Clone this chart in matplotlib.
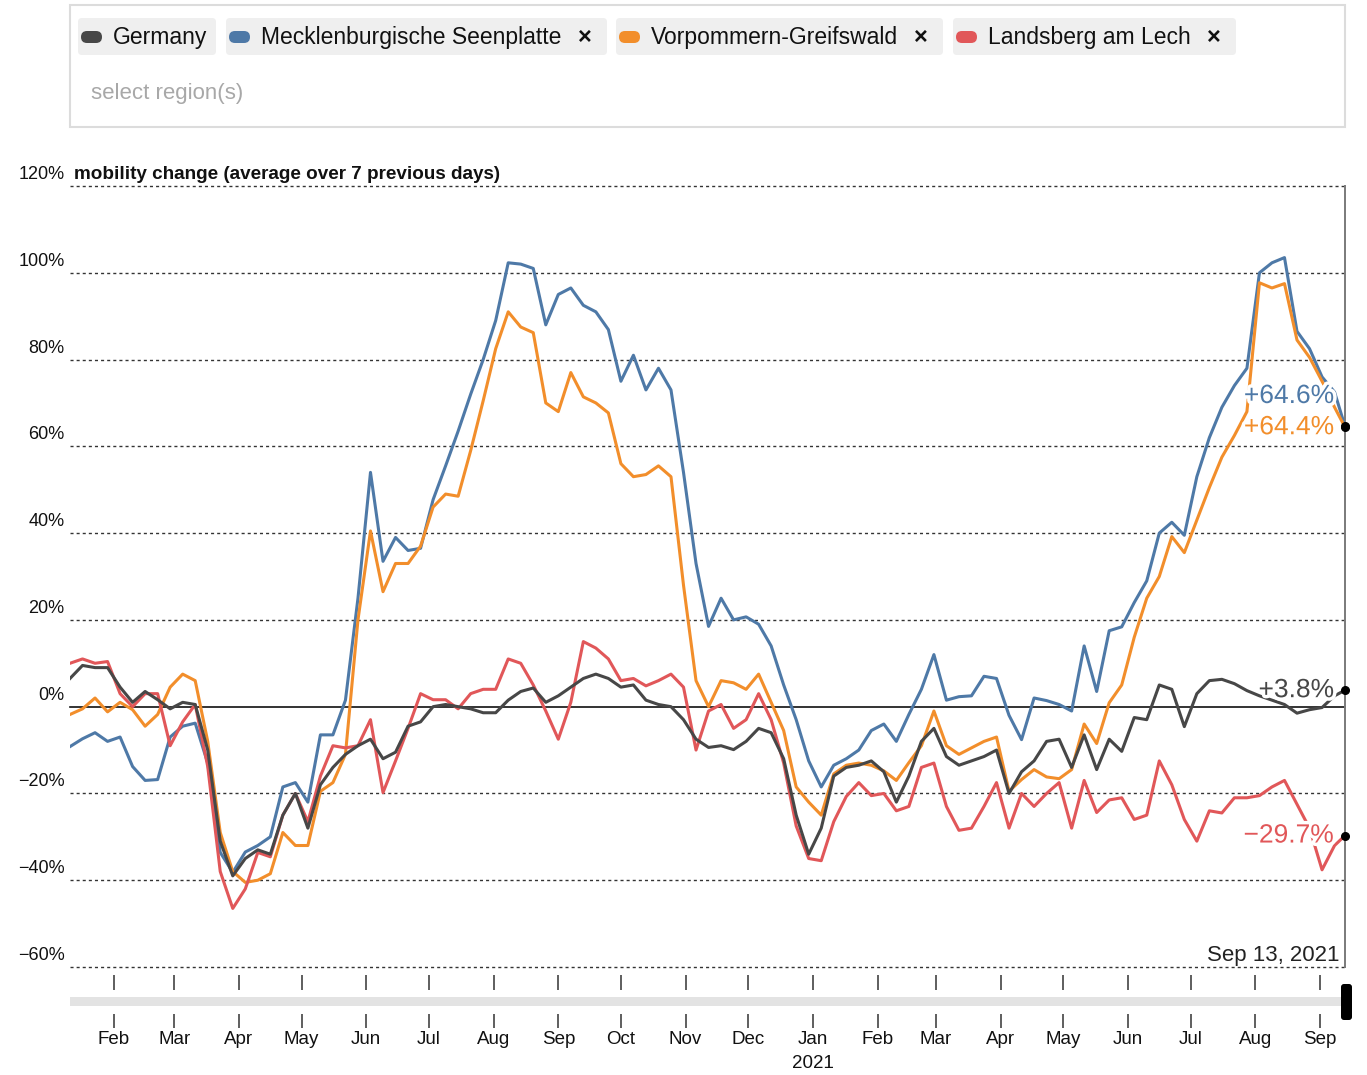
import matplotlib
matplotlib.use("Agg")
import matplotlib.pyplot as plt
import matplotlib.dates as mdates
import matplotlib.patheffects as pe
from matplotlib.patches import FancyBboxPatch, Rectangle
import pandas as pd

plt.rcParams['font.family'] = ['Liberation Sans', 'DejaVu Sans']

W, H = 1367, 1075

# ---------------- data ----------------
dates = list(pd.date_range("2020-01-11", periods=102, freq="6D")) + [pd.Timestamp("2021-09-13")]

germany = [
    6.5, 9.5, 9, 9, 4.5, 1, 3.5, 1.6, -0.5, 1,
    0.5, -10, -31, -39, -35, -33, -34, -25, -20, -28,
    -18, -14, -11, -9, -7.5, -12, -10.5, -4.5, -3.5, 0,
    0.5, 0, -0.5, -1.4, -1.4, 1.5, 3.5, 4.3, 1, 2.5,
    4.5, 6.5, 7.5, 6.5, 4.5, 5, 1.5, 0.5, 0, -3,
    -7.5, -9.4, -9, -9.9, -8, -5, -6, -12, -25, -34,
    -28, -16, -14, -13.5, -12.5, -15, -22, -16, -8, -5,
    -11.5, -13.5, -12.5, -11.5, -10, -20, -15, -12.5, -8, -7.5,
    -14, -6.5, -14.5, -7.5, -10.3, -2.5, -3, 5, 4, -4.6,
    3, 6, 6.3, 5.3, 3.7, 2.5, 1.5, 0.5, -1.5, -0.7,
    -0.2, 2.5, 3.8]

mecklenburg = [
    -9.2, -7.4, -6, -8, -7, -13.8, -17, -16.8, -7, -4.5,
    -3.8, -13, -33.6, -38.2, -33.5, -32, -30, -18.5, -17.5, -22,
    -6.5, -6.5, 1.5, 25, 54, 33.5, 39, 36, 36.5, 47.7,
    55.5, 63.5, 72, 80, 89, 102.3, 102, 101, 88, 95,
    96.5, 92.5, 91, 86.9, 75, 81, 73, 78, 73, 54,
    33, 18.5, 25, 20, 20.7, 19, 14, 5, -3, -12.5,
    -18.5, -13.5, -12, -10, -5.5, -4, -8, -1.8, 4, 12,
    1.5, 2.3, 2.5, 7, 6.5, -2, -7.6, 2, 1.4, 0.5,
    -1, 14, 3.5, 17.5, 18.4, 24, 29, 40, 42.5, 39.5,
    53, 62, 69, 74, 78, 100, 102.3, 103.5, 86.5, 82.5,
    76, 72.5, 64.6]

vorpommern = [
    -1.8, -0.5, 2, -1.2, 1, -0.7, -4.5, -1.8, 4.5, 7.5,
    6, -8, -29, -38, -40.5, -40, -38.5, -29, -32, -32,
    -19.5, -17.5, -11, 20, 40.5, 26.5, 33, 33, 37, 46,
    49, 48.5, 59, 70.5, 82.5, 91, 87.5, 86.2, 70, 68,
    77, 71.4, 70, 67.7, 56, 53, 53.5, 55.5, 53, 28,
    6, 0, 6, 5.5, 4, 7.5, 1, -5.5, -18.5, -22,
    -25, -15.5, -13.5, -13, -13.5, -14.8, -17, -12.9, -9, -1,
    -9, -11, -9.5, -8, -7, -19.5, -16.8, -14.5, -16.2, -16.6,
    -14.5, -4, -8.5, 0.9, 5, 16, 25, 30, 39.2, 35.5,
    43, 50.5, 57.5, 62.5, 68, 97.7, 96.5, 97.5, 84.5, 80.5,
    75, 69, 64.4]

landsberg = [
    10, 11, 10, 10.4, 3, 0, 3, 3, -9, -3.5,
    0.5, -13.8, -38, -46.5, -42, -33.6, -34.6, -25, -20, -26.5,
    -16, -9, -9.5, -9, -3, -19.8, -12.5, -5, 3, 1.6,
    1.6, -0.5, 3, 4, 4, 11, 10, 5, -1, -7.5,
    1, 15, 13.5, 11, 6, 6.5, 4.8, 6, 7.5, 4.5,
    -10, -1, 0.5, -5, -3, 3, -3, -13, -27.5, -35,
    -35.5, -26.5, -20.7, -17.5, -20.5, -20, -24, -23, -14, -13,
    -23, -28.5, -28, -23, -17.5, -28, -20, -23, -20, -17.5,
    -28, -17, -24.4, -21.5, -21, -26, -25, -12.5, -18, -26,
    -31, -24, -24.5, -21, -21, -20.5, -18.5, -17, -22.5, -28,
    -37.6, -32, -29.7]

region_names = ["Germany", "Mecklenburgische Seenplatte", "Vorpommern-Greifswald", "Landsberg am Lech"]
region_values = [germany, mecklenburg, vorpommern, landsberg]
region_colors = ["#474747", "#4e79a7", "#f28e2b", "#e15759"]
removable = [False, True, True, True]

y_ticks = [-60, -40, -20, 0, 20, 40, 60, 80, 100, 120]
month_ticks = list(pd.date_range("2020-02-01", "2021-09-01", freq="MS"))
month_labels = [d.strftime("%b") for d in month_ticks]

x_start = pd.Timestamp("2020-01-11")
x_end = pd.Timestamp("2021-09-13")

# ---------------- figure ----------------
fig = plt.figure(figsize=(W / 100, H / 100), dpi=100)

L, R, T, B = 70, 1345, 186, 967
ax = fig.add_axes([L / W, 1 - B / H, (R - L) / W, (B - T) / H])
ax.set_xlim(x_start, x_end)
ax.set_ylim(-60, 120)
ax.axis("off")

for v in y_ticks:
    if v == 0:
        ax.axhline(v, color="#111111", lw=1.2, zorder=1, clip_on=False)
    else:
        ax.axhline(v, color="#333333", lw=1.0, ls=(0, (2.2, 2.2)), zorder=1, clip_on=False)
    lab = f"{v}%".replace("-", "\u2212")
    ax.annotate(lab, xy=(0, v), xycoords=("axes fraction", "data"),
                xytext=(-4, 5), textcoords="offset points",
                ha="right", va="baseline", fontsize=13, color="#111111")

ax.annotate("mobility change (average over 7 previous days)", xy=(0, 120),
            xycoords=("axes fraction", "data"), xytext=(3, 5),
            textcoords="offset points", ha="left", va="baseline",
            fontsize=13.6, fontweight="bold", color="#111111")

# vertical current-date line
ax.axvline(x_end, color="#7a7a7a", lw=1.4, zorder=2, clip_on=False)

order = [1, 2, 3, 0]
for i in order:
    ax.plot(dates, region_values[i], color=region_colors[i], lw=2.2,
            solid_joinstyle="round", zorder=3 + (1 if i == 0 else 0))

# end labels
label_shift = {0: 0, 1: 7.0, 2: 0, 3: 0}
for i in range(4):
    v = region_values[i][-1]
    ax.plot([dates[-1]], [v], "o", color="black", ms=5.5, zorder=8, clip_on=False)
    txt = f"{v:+.1f}%".replace("-", "\u2212")
    ax.annotate(txt, xy=(dates[-1], v + label_shift[i]), xytext=(-8, 0),
                textcoords="offset points", ha="right", va="center",
                fontsize=19, color=region_colors[i], zorder=7,
                path_effects=[pe.withStroke(linewidth=5, foreground="white")])

ax.annotate("Sep 13, 2021", xy=(1, -60), xycoords=("axes fraction", "data"),
            xytext=(-4, 4.5), textcoords="offset points", ha="right",
            va="baseline", fontsize=16, color="#222222")

# ---------------- slider / time axis ----------------
sax = fig.add_axes([L / W, 0, (R - L) / W, 1])
sax.set_xlim(x_start, x_end)
sax.set_ylim(H, 0)
sax.axis("off")
sax.patch.set_alpha(0)

sax.add_patch(Rectangle((mdates.date2num(x_start), 997),
                        mdates.date2num(x_end) - mdates.date2num(x_start), 9,
                        color="#e3e3e3", lw=0, clip_on=False))
sax.vlines(month_ticks, 975, 990, color="#333333", lw=1.1, clip_on=False)
sax.vlines(month_ticks, 1014, 1028, color="#333333", lw=1.1, clip_on=False)
for d, lab in zip(month_ticks, month_labels):
    sax.text(d, 1039, lab, ha="center", va="center", fontsize=13.5, color="#111111")
sax.text(pd.Timestamp("2021-01-01"), 1063, "2021", ha="center", va="center",
         fontsize=13.5, color="#111111")

# ---------------- overlay (legend chips) ----------------
ov = fig.add_axes([0, 0, 1, 1])
ov.set_xlim(0, W)
ov.set_ylim(H, 0)
ov.axis("off")
ov.patch.set_alpha(0)

# handle
ov.add_patch(FancyBboxPatch((1341, 984), 11, 36, boxstyle="round,pad=0,rounding_size=3",
                            fc="black", ec="none"))

ov.add_patch(Rectangle((70, 5), 1275, 122, fc="white", ec="#dcdcdc", lw=1.5))

chip_x = [(78, 216), (226, 607), (616, 943), (953, 1236)]
for (x0, x1), name, col, rem in zip(chip_x, region_names, region_colors, removable):
    ov.add_patch(FancyBboxPatch((x0, 18), x1 - x0, 37, boxstyle="round,pad=0,rounding_size=4",
                                fc="#efefef", ec="none"))
    ov.add_patch(FancyBboxPatch((x0 + 3, 31), 21, 12, boxstyle="round,pad=0,rounding_size=6",
                                fc=col, ec="none"))
    ov.text(x0 + 35, 37.5, name, ha="left", va="center", fontsize=16.5, color="#111111")
    if rem:
        ov.text(x1 - 22, 37.5, "\u00d7", ha="center", va="center", fontsize=17,
                fontweight="bold", color="#111111")

ov.text(91, 94, "select region(s)", ha="left", va="center", fontsize=16, color="#a8a8a8")

fig.savefig("out.png", dpi=100)
